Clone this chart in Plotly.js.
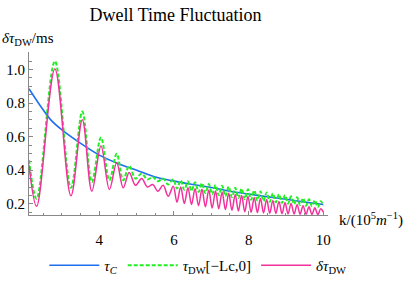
<!DOCTYPE html>
<html>
<head>
<meta charset="utf-8">
<script src="https://cdn.plot.ly/plotly-3.0.1.min.js"></script>
<style>
html,body{margin:0;padding:0;background:#fff;}
#chart{width:409px;height:294px;}
</style>
</head>
<body>
<div id="chart"></div>
<script>
// tau_C (smooth classical dwell time)
var kC   = [2.117, 2.4, 2.7, 3.0, 3.5, 4.0, 4.5, 5.0, 5.5, 6.0, 6.5, 7.0, 7.5, 8.0, 8.5, 9.0, 9.5, 10.0];
var tauC = [0.885, 0.79, 0.70, 0.64, 0.56, 0.49, 0.44, 0.40, 0.36, 0.335, 0.315, 0.297, 0.275, 0.258, 0.242, 0.227, 0.211, 0.196];

// extremes (peaks / troughs) of the oscillating curves
var kExt = [2.117, 2.32, 2.81, 3.24, 3.545, 3.80, 4.045, 4.27, 4.466, 4.64, 4.80, 4.97, 5.135, 5.29, 5.43, 5.57, 5.71, 5.845, 5.98,
  6.08, 6.18, 6.278, 6.375, 6.47, 6.565, 6.658, 6.75, 6.842, 6.933, 7.023, 7.113, 7.2, 7.29, 7.378, 7.466, 7.553, 7.64,
  7.726, 7.812, 7.897, 7.982, 8.066, 8.15, 8.234, 8.317, 8.4, 8.483, 8.566, 8.648, 8.73, 8.812, 8.894, 8.975, 9.056, 9.137,
  9.218, 9.298, 9.378, 9.458, 9.538, 9.617, 9.696, 9.775, 9.854, 9.932, 10.0];
var tauDW = [0.46, 0.23, 1.049, 0.295, 0.749, 0.33, 0.595, 0.34, 0.498, 0.34, 0.426, 0.35, 0.38, 0.345, 0.36, 0.335, 0.35, 0.315, 0.346,
  0.291, 0.340, 0.284, 0.334, 0.277, 0.329, 0.270, 0.323, 0.264, 0.318, 0.257, 0.312, 0.251, 0.307, 0.245, 0.302, 0.240, 0.296,
  0.234, 0.291, 0.228, 0.286, 0.224, 0.280, 0.220, 0.274, 0.216, 0.268, 0.212, 0.262, 0.209, 0.257, 0.205, 0.251, 0.201, 0.245,
  0.198, 0.239, 0.193, 0.233, 0.189, 0.227, 0.185, 0.221, 0.180, 0.216, 0.19];
var dTauDW = [0.43, 0.185, 1.003, 0.248, 0.70, 0.275, 0.545, 0.285, 0.444, 0.295, 0.386, 0.31, 0.35, 0.30, 0.315, 0.275, 0.31, 0.245, 0.305,
  0.210, 0.300, 0.202, 0.295, 0.196, 0.290, 0.189, 0.286, 0.182, 0.282, 0.175, 0.276, 0.171, 0.269, 0.166, 0.263, 0.162, 0.256,
  0.157, 0.250, 0.153, 0.244, 0.149, 0.238, 0.148, 0.232, 0.146, 0.226, 0.144, 0.220, 0.143, 0.214, 0.141, 0.208, 0.140, 0.202,
  0.139, 0.195, 0.138, 0.189, 0.138, 0.182, 0.137, 0.176, 0.136, 0.170, 0.15];

var xTickVals = [4, 6, 8, 10];
var xTickText = ['4', '6', '8', '10'];
var yTickVals = [0.2, 0.4, 0.6, 0.8, 1.0];
var yTickText = ['0.2', '0.4', '0.6', '0.8', '1.0'];

var serif = '"Liberation Serif", "Times New Roman", serif';

var traces = [
  {x: kC, y: tauC, type: 'scatter', mode: 'lines', name: '<i>τ</i><sub><i>C</i></sub>',
   line: {color: '#1f6ff0', width: 1.6, shape: 'spline'}},
  {x: kExt, y: tauDW, type: 'scatter', mode: 'lines', name: '<i>τ</i><sub>DW</sub>[−Lc,0]',
   line: {color: '#22ee22', width: 2, dash: '4px,2px', shape: 'spline', smoothing: 1}},
  {x: kExt, y: dTauDW, type: 'scatter', mode: 'lines', name: '<i>δτ</i><sub>DW</sub>',
   line: {color: '#f2319c', width: 1.5, shape: 'spline', smoothing: 1}}
];

var axisCommon = {
  showgrid: false, zeroline: false, showline: true, linecolor: '#888', linewidth: 1,
  ticks: 'inside', ticklen: 4, tickcolor: '#888', tickwidth: 1,
  tickfont: {family: serif, size: 15, color: '#000'}
};

var layout = {
  width: 409, height: 294,
  margin: {l: 29, r: 81, t: 51.7, b: 64.5},
  paper_bgcolor: '#fff', plot_bgcolor: '#fff',
  title: {text: 'Dwell Time Fluctuation', font: {family: serif, size: 18, color: '#000'},
          xref: 'paper', x: 0.49, xanchor: 'center', y: 0.951, yanchor: 'middle'},
  xaxis: Object.assign({}, axisCommon, {
    range: [2.117, 10.126], tickvals: xTickVals, ticktext: xTickText, ticklabelstandoff: 11,
    automargin: false,
    minor: {dtick: 0.5, tick0: 0, ticks: 'inside', ticklen: 2.5, tickcolor: '#888'}
  }),
  yaxis: Object.assign({}, axisCommon, {
    range: [0.1334, 1.104], tickvals: yTickVals, ticktext: yTickText, automargin: false,
    minor: {dtick: 0.05, tick0: 0, ticks: 'inside', ticklen: 2.5, tickcolor: '#888'}
  }),
  showlegend: true,
  legend: {orientation: 'h', xref: 'paper', yref: 'paper', x: 1.078, xanchor: 'right', y: -0.31, yanchor: 'middle',
           font: {family: serif, size: 15, color: '#000'}, itemwidth: 50, bgcolor: 'rgba(0,0,0,0)'},
  annotations: [
    {text: '<i>δτ</i><sub>DW</sub>/ms', xref: 'paper', yref: 'paper', x: -0.097, y: 1.077,
     xanchor: 'left', yanchor: 'middle', showarrow: false, font: {family: serif, size: 15, color: '#000'}},
    {text: 'k/(10<sup>5</sup><i>m</i><sup>−1</sup>)', xref: 'paper', yref: 'paper', x: 1.03, y: -0.026,
     xanchor: 'left', yanchor: 'middle', showarrow: false, font: {family: serif, size: 15, color: '#000'}}
  ]
};

Plotly.newPlot('chart', traces, layout, {displayModeBar: false, staticPlot: true});
</script>
</body>
</html>
